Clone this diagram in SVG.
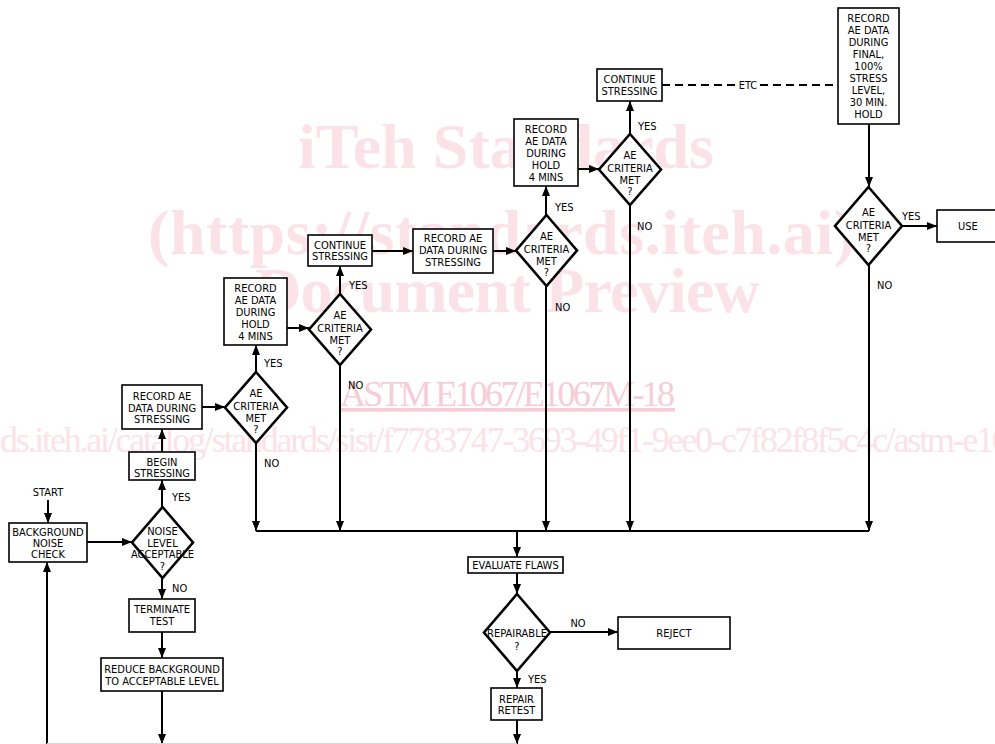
<svg xmlns="http://www.w3.org/2000/svg" width="995" height="744" viewBox="0 0 995 744">
<style>
.wm{font-family:"Liberation Serif",serif;fill:#fbe2e9}
.wm2{font-family:"Liberation Serif",serif;fill:#f6cdd7}
.box{fill:#fff;stroke:#000;stroke-width:1.6}
.dia{fill:#fff;stroke:#000;stroke-width:2.6}
.t{font-family:"DejaVu Sans Condensed","DejaVu Sans",sans-serif;font-stretch:condensed;font-size:11px;fill:#000;text-anchor:middle}
.l{text-anchor:start}
.c{fill:none;stroke:#000;stroke-width:2}
.a{marker-end:url(#ah)}
</style>
<defs>
<marker id="ah" viewBox="0 0 10 8" markerWidth="10" markerHeight="8" refX="10" refY="4" orient="auto" markerUnits="userSpaceOnUse">
<path d="M0,0 L10,4 L0,8 z" fill="#000"/>
</marker>
</defs>
<rect width="995" height="744" fill="#fff"/>
<g id="watermark">
<text class="wm" x="298" y="168" font-size="64" font-weight="bold" textLength="416">iTeh Standards</text>
<text class="wm" x="148" y="254" font-size="64" font-weight="bold" textLength="707">(https://standards.iteh.ai)</text>
<text class="wm" x="255" y="312" font-size="64" font-weight="bold" textLength="505">Document Preview</text>
<text class="wm2" x="340" y="406" font-size="36" textLength="335" text-decoration="underline">ASTM E1067/E1067M-18</text>
<text class="wm" x="0" y="452" font-size="36" textLength="1010">ds.iteh.ai/catalog/standards/sist/f7783747-3693-49f1-9ee0-c7f82f8f5c4c/astm-e10</text>
</g>
<g id="connectors">
<path class="c a" d="M48,500 V523"/>
<path class="c a" d="M87,542 H132"/>
<path class="c a" d="M162,507 V480"/>
<path class="c a" d="M162,452 V429"/>
<path class="c a" d="M202,407 H225"/>
<path class="c a" d="M256,372 V345"/>
<path class="c a" d="M287,328 H309"/>
<path class="c a" d="M340,294 V266"/>
<path class="c a" d="M372,251 H413"/>
<path class="c a" d="M493,251 H516"/>
<path class="c a" d="M546,215 V186"/>
<path class="c a" d="M578,169 H599"/>
<path class="c a" d="M630,134 V101"/>
<path class="c" stroke-dasharray="8,5" d="M662,85 H736"/>
<path class="c" stroke-dasharray="8,5" d="M760,85 H838"/>
<path class="c a" d="M869,124 V187"/>
<path class="c a" d="M902,226 H937"/>
<path class="c a" d="M869,265 V531"/>
<path class="c a" d="M630,205 V531"/>
<path class="c a" d="M546,286 V531"/>
<path class="c a" d="M340,365 V531"/>
<path class="c a" d="M256,443 V531"/>
<path class="c" stroke-width="2.5" d="M256,531 H869"/>
<path class="c a" d="M517,531 V557"/>
<path class="c a" d="M517,573 V594"/>
<path class="c a" d="M550,632 H618"/>
<path class="c a" d="M517,671 V688"/>
<path class="c a" d="M517,720 V744"/>
<path class="c a" d="M162,578 V599"/>
<path class="c a" d="M162,632 V658"/>
<path class="c a" d="M162,691 V744"/>
<path class="c a" d="M47,744 V562"/>
<path fill="none" stroke="#d8d8d8" stroke-width="1" d="M47,743.5 H517"/>
</g>
<g id="labels">
<text class="t" x="48" y="496">START</text>
<text class="t l" x="172" y="501">YES</text>
<text class="t l" x="172" y="592">NO</text>
<text class="t l" x="264" y="367">YES</text>
<text class="t l" x="264" y="467">NO</text>
<text class="t l" x="349" y="289">YES</text>
<text class="t l" x="348" y="389">NO</text>
<text class="t l" x="555" y="211">YES</text>
<text class="t l" x="555" y="311">NO</text>
<text class="t l" x="638" y="130">YES</text>
<text class="t l" x="637" y="230">NO</text>
<text class="t" x="748" y="89">ETC</text>
<text class="t l" x="902" y="220">YES</text>
<text class="t l" x="877" y="289">NO</text>
<text class="t" x="578" y="627">NO</text>
<text class="t l" x="528" y="683">YES</text>
</g>
<g id="n-bg">
<rect class="box" x="9" y="523" width="78" height="39"/>
<text class="t" x="48" y="535.5">BACKGROUND</text>
<text class="t" x="48" y="546.5">NOISE</text>
<text class="t" x="48" y="557.5">CHECK</text>
</g>
<g id="n-noise">
<polygon class="dia" points="162.5,507 193,542.5 162.5,578 132,542.5"/>
<text class="t" x="162.5" y="535">NOISE</text>
<text class="t" x="162.5" y="546.5">LEVEL</text>
<text class="t" x="162.5" y="558">ACCEPTABLE</text>
<text class="t" x="162.5" y="569.5">?</text>
</g>
<g id="n-begin">
<rect class="box" x="129" y="452" width="66" height="28"/>
<text class="t" x="162" y="465.5">BEGIN</text>
<text class="t" x="162" y="476.5">STRESSING</text>
</g>
<g id="n-terminate">
<rect class="box" x="129" y="599" width="66" height="33"/>
<text class="t" x="162" y="613">TERMINATE</text>
<text class="t" x="162" y="624.5">TEST</text>
</g>
<g id="n-reduce">
<rect class="box" x="101" y="658" width="122" height="33"/>
<text class="t" x="162" y="673">REDUCE BACKGROUND</text>
<text class="t" x="162" y="684.5">TO ACCEPTABLE LEVEL</text>
</g>
<g id="n-rec1">
<rect class="box" x="122" y="385" width="80" height="44"/>
<text class="t" x="162" y="400">RECORD AE</text>
<text class="t" x="162" y="411.5">DATA DURING</text>
<text class="t" x="162" y="423">STRESSING</text>
</g>
<g id="n-d1">
<polygon class="dia" points="256,372 287,407.5 256,443 225,407.5"/>
<text class="t" x="256" y="397">AE</text>
<text class="t" x="256" y="410">CRITERIA</text>
<text class="t" x="256" y="422">MET</text>
<text class="t" x="256" y="432.5">?</text>
</g>
<g id="n-hold1">
<rect class="box" x="224" y="278" width="63" height="67"/>
<text class="t" x="255.5" y="292">RECORD</text>
<text class="t" x="255.5" y="304">AE DATA</text>
<text class="t" x="255.5" y="316">DURING</text>
<text class="t" x="255.5" y="328">HOLD</text>
<text class="t" x="255.5" y="340">4 MINS</text>
</g>
<g id="n-d2">
<polygon class="dia" points="340,294 371,329.5 340,365 309,329.5"/>
<text class="t" x="340" y="319">AE</text>
<text class="t" x="340" y="332">CRITERIA</text>
<text class="t" x="340" y="344">MET</text>
<text class="t" x="340" y="354.5">?</text>
</g>
<g id="n-cont1">
<rect class="box" x="308" y="235" width="64" height="31"/>
<text class="t" x="340" y="249">CONTINUE</text>
<text class="t" x="340" y="260">STRESSING</text>
</g>
<g id="n-rec2">
<rect class="box" x="413" y="229" width="80" height="44"/>
<text class="t" x="453" y="242">RECORD AE</text>
<text class="t" x="453" y="254">DATA DURING</text>
<text class="t" x="453" y="266">STRESSING</text>
</g>
<g id="n-d3">
<polygon class="dia" points="546.5,215 577,250.5 546.5,286 516,250.5"/>
<text class="t" x="546.5" y="240">AE</text>
<text class="t" x="546.5" y="253">CRITERIA</text>
<text class="t" x="546.5" y="265">MET</text>
<text class="t" x="546.5" y="275.5">?</text>
</g>
<g id="n-hold2">
<rect class="box" x="514" y="119" width="64" height="67"/>
<text class="t" x="546" y="133">RECORD</text>
<text class="t" x="546" y="145">AE DATA</text>
<text class="t" x="546" y="157">DURING</text>
<text class="t" x="546" y="169">HOLD</text>
<text class="t" x="546" y="181">4 MINS</text>
</g>
<g id="n-d4">
<polygon class="dia" points="630,134 661,169.5 630,205 599,169.5"/>
<text class="t" x="630" y="159">AE</text>
<text class="t" x="630" y="172">CRITERIA</text>
<text class="t" x="630" y="184">MET</text>
<text class="t" x="630" y="194.5">?</text>
</g>
<g id="n-cont2">
<rect class="box" x="597" y="69" width="65" height="32"/>
<text class="t" x="629.5" y="83">CONTINUE</text>
<text class="t" x="629.5" y="95">STRESSING</text>
</g>
<g id="n-final">
<rect class="box" x="838" y="8" width="61" height="116" stroke-width="2.6"/>
<text class="t" x="868.5" y="22">RECORD</text>
<text class="t" x="868.5" y="34">AE DATA</text>
<text class="t" x="868.5" y="46">DURING</text>
<text class="t" x="868.5" y="58">FINAL,</text>
<text class="t" x="868.5" y="70">100%</text>
<text class="t" x="868.5" y="82">STRESS</text>
<text class="t" x="868.5" y="94">LEVEL,</text>
<text class="t" x="868.5" y="106">30 MIN.</text>
<text class="t" x="868.5" y="118">HOLD</text>
</g>
<g id="n-d5">
<polygon class="dia" points="868.5,187 902,226 868.5,265 835,226"/>
<text class="t" x="868.5" y="216">AE</text>
<text class="t" x="868.5" y="229">CRITERIA</text>
<text class="t" x="868.5" y="241">MET</text>
<text class="t" x="868.5" y="252">?</text>
</g>
<g id="n-use">
<rect class="box" x="937" y="210" width="70" height="32"/>
<text class="t" x="968" y="230">USE</text>
</g>
<g id="n-evaluate">
<rect class="box" x="468" y="557" width="95" height="16"/>
<text class="t" x="515.5" y="569">EVALUATE FLAWS</text>
</g>
<g id="n-repairable">
<polygon class="dia" points="517,594 550,632.5 517,671 484,632.5"/>
<text class="t" x="517" y="636.5" font-size="9.5">REPAIRABLE</text>
<text class="t" x="517" y="649.5" font-size="9.5">?</text>
</g>
<g id="n-reject">
<rect class="box" x="618" y="617" width="112" height="32"/>
<text class="t" x="674" y="637">REJECT</text>
</g>
<g id="n-repair">
<rect class="box" x="491" y="688" width="51" height="32"/>
<text class="t" x="516.5" y="703">REPAIR</text>
<text class="t" x="516.5" y="714">RETEST</text>
</g>
</svg>
